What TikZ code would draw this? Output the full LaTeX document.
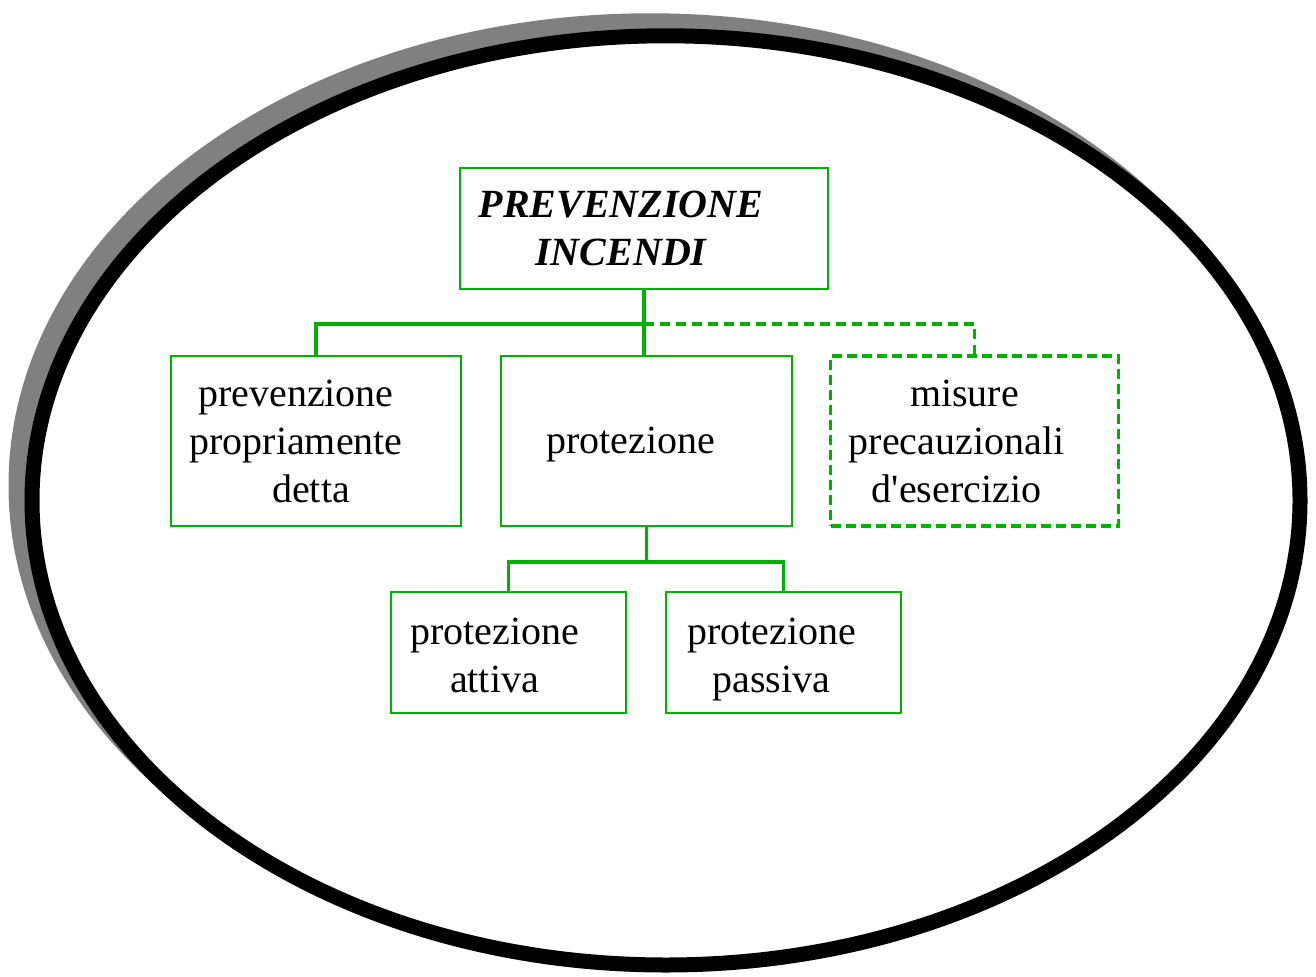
\documentclass[tikz,border=0pt]{standalone}
\usepackage{fontspec}
\setmainfont{Liberation Serif}
\usetikzlibrary{positioning}
\definecolor{boxgreen}{RGB}{0,178,0}
\definecolor{shadowgray}{RGB}{128,128,128}

\begin{document}
\begin{tikzpicture}[x=1pt,y=1pt,
	box/.style={draw=boxgreen,line width=1pt,fill=white,inner sep=0pt},
	dashbox/.style={box,line width=1.6pt,dash pattern=on 5pt off 2.5pt},
	txt/.style={font=\fontsize{20}{24}\selectfont,align=center,inner sep=0pt},
	link/.style={draw=boxgreen,line width=1.9pt},
	dashlink/.style={link,line width=1.6pt,dash pattern=on 5pt off 3pt}]

	\useasboundingbox (0,0) rectangle (658,488);
	\fill[shadowgray] (325,245.3) ellipse [x radius=320.75,y radius=236.05];
	\draw[black,line width=7.5pt,fill=white] (333,237.8) ellipse [x radius=317,y radius=232.3];

	\node[box,minimum width=184pt,minimum height=60.5pt] (top) at (322,373.75) {};
	\node[box,minimum width=145.5pt,minimum height=85pt] (prot) at (323.25,267.5) {};
	\node[box,minimum width=145pt,minimum height=85pt] (prev) [left=19pt of prot] {};
	\node[dashbox,minimum width=144pt,minimum height=85pt] (misure) [right=18pt of prot] {};
	\node[box,minimum width=117.5pt,minimum height=60.5pt] (attiva) at (254.25,161.75) {};
	\node[box,minimum width=117.5pt,minimum height=60.5pt] (passiva) [right=19pt of attiva] {};

	\node[txt,font=\fontsize{20}{24}\selectfont\bfseries\itshape] (top-t) at ([xshift=-11.5pt]top.center) {PREVENZIONE\\INCENDI};
	\node[txt] (prev-t) at ([xshift=-10pt]prev.center) {prevenzione\\propriamente\\\hspace*{15pt}detta};
	\node[txt] (prot-t) at ([xshift=-8pt,yshift=-2pt]prot.center) {protezione};
	\node[txt] (misure-t) at ([xshift=-9pt]misure.center) {\hspace*{8pt}misure\\precauzionali\\d\textquotesingle esercizio};
	\node[txt] (attiva-t) at ([xshift=-7pt,yshift=-1.5pt]attiva.center) {protezione\\attiva};
	\node[txt] (passiva-t) at ([xshift=-6pt,yshift=-3.5pt]passiva.center) {protezione\\passiva};

	\draw[link] (top.south) -- ++(0,-17) coordinate (bus1) -| (prev.north);
	\draw[link] (bus1) -- (bus1 |- prot.north);
	\draw[dashlink] (bus1) -| (misure.north);
	\draw[link] (prot.south) -- ++(0,-17.5) coordinate (bus2) -| (attiva.north);
	\draw[link] (bus2) -| (passiva.north);
\end{tikzpicture}
\end{document}
